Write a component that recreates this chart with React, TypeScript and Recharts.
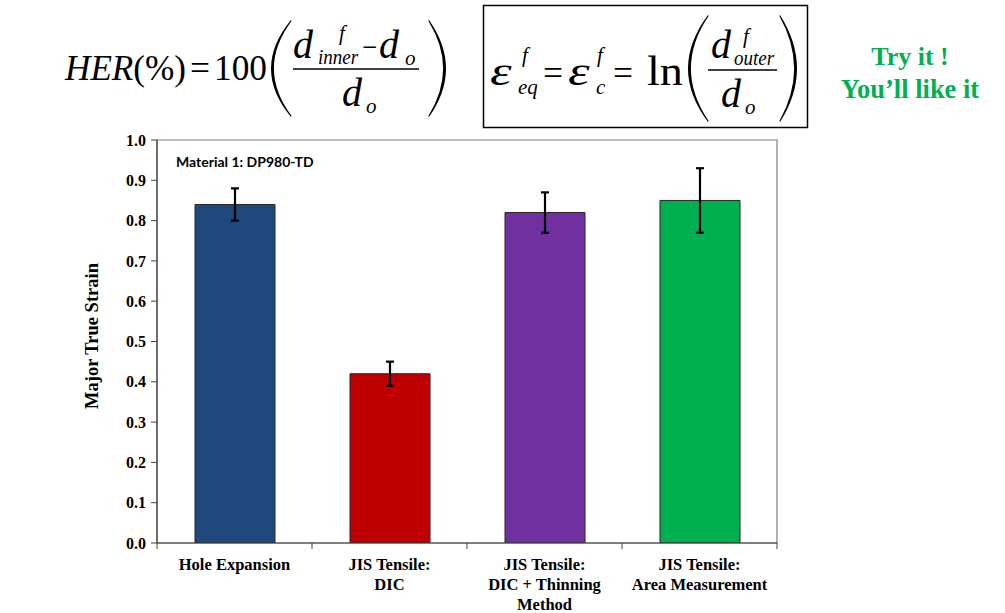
import { Bar, BarChart, Cell, ErrorBar, ReferenceArea, XAxis, YAxis } from "recharts";

const categories = [
  "Hole Expansion",
  "JIS Tensile:|DIC",
  "JIS Tensile:|DIC + Thinning|Method",
  "JIS Tensile:|Area Measurement",
];
const strains = [0.84, 0.42, 0.82, 0.85];
const strainErrors = [0.04, 0.03, 0.05, 0.08];
const barColors = ["#1F497D", "#C00000", "#7030A0", "#00B050"];
const yTicks = [0, 0.1, 0.2, 0.3, 0.4, 0.5, 0.6, 0.7, 0.8, 0.9, 1.0];

const W = 1005;
const H = 613;
const PLOT_LEFT = 157;
const PLOT_RIGHT = 777;
const SERIF = "'Liberation Serif', 'Times New Roman', serif";

const data = categories.map((name, i) => ({ name, strain: strains[i], err: strainErrors[i] }));

function CategoryTick(props: any) {
  const { x, y, payload, index } = props;
  const half = (PLOT_RIGHT - PLOT_LEFT) / categories.length / 2;
  const lines = String(payload.value).split("|");
  return (
    <g>
      <line x1={x - half} x2={x - half} y1={y} y2={y + 6} stroke="#404040" />
      {index === categories.length - 1 && (
        <line x1={x + half} x2={x + half} y1={y} y2={y + 6} stroke="#404040" />
      )}
      <text x={x} y={y + 27} textAnchor="middle" fontFamily={SERIF} fontWeight="bold" fontSize={16.5} fill="#000">
        {lines.map((l, i) => (
          <tspan key={i} x={x} dy={i === 0 ? 0 : 20}>
            {l}
          </tspan>
        ))}
      </text>
    </g>
  );
}

// crescent-shaped big parenthesis
function Paren({ xEnd, xMid, top, bottom }: { xEnd: number; xMid: number; top: number; bottom: number }) {
  const mid = (top + bottom) / 2;
  const dir = xMid < xEnd ? 1 : -1;
  const c1 = 2 * xMid - xEnd;
  const c2 = 2 * (xMid + dir * 2.6) - xEnd;
  return (
    <path
      d={`M${xEnd},${top} Q${c1},${mid} ${xEnd},${bottom} L${xEnd + dir * 0.6},${bottom - 1} Q${c2},${mid} ${xEnd + dir * 0.6},${top + 1} Z`}
      fill="#000"
    />
  );
}

// wide symbol-font style epsilon
function Eps({ x, y }: { x: number; y: number }) {
  return (
    <text transform={`translate(${x},${y}) scale(1.4,1)`} fontSize={39} fontStyle="italic">
      ε
    </text>
  );
}

function T({ x, y, s, len, italic, children }: any) {
  return (
    <text
      x={x}
      y={y}
      fontSize={s}
      fontStyle={italic ? "italic" : "normal"}
      textLength={len}
      lengthAdjust={len ? "spacingAndGlyphs" : undefined}
    >
      {children}
    </text>
  );
}

function Formulas() {
  return (
    <svg width={W} height={H} style={{ position: "absolute", left: 0, top: 0, pointerEvents: "none" }}>
      <g fontFamily={SERIF} fill="#000">
        {/* HER formula */}
        <text x={65} y={80} fontSize={36} textLength={121} lengthAdjust="spacingAndGlyphs">
          <tspan fontStyle="italic">HER</tspan>
          <tspan>(%)</tspan>
        </text>
        <T x={190} y={80} s={36} len={20}>=</T>
        <T x={214} y={80} s={36} len={53}>100</T>
        <Paren xEnd={291} xMid={271} top={20} bottom={117} />
        <T x={293} y={58} s={40} italic>d</T>
        <T x={339} y={40} s={21} italic>f</T>
        <T x={318} y={64} s={21} italic len={40}>inner</T>
        <T x={362} y={58} s={32} len={15}>−</T>
        <T x={379} y={58} s={40} italic>d</T>
        <T x={405} y={65} s={21} italic>o</T>
        <line x1={293} x2={419} y1={69} y2={69} stroke="#000" strokeWidth={1.6} />
        <T x={342} y={106} s={40} italic>d</T>
        <T x={366} y={113} s={21} italic>o</T>
        <Paren xEnd={429} xMid={446} top={20} bottom={117} />

        {/* strain formula */}
        <rect x={483.5} y={5.5} width={324} height={122} fill="none" stroke="#000" strokeWidth={1.5} />
        <Eps x={490} y={85} />
        <T x={518} y={94} s={21} italic>eq</T>
        <T x={522} y={62} s={21} italic>f</T>
        <T x={543} y={85} s={36} len={20}>=</T>
        <Eps x={568} y={85} />
        <T x={596} y={94} s={21} italic>c</T>
        <T x={597} y={62} s={21} italic>f</T>
        <T x={613} y={85} s={36} len={20}>=</T>
        <T x={647} y={85} s={42} len={36}>ln</T>
        <Paren xEnd={708} xMid={688} top={15} bottom={122} />
        <T x={711} y={58} s={40} italic>d</T>
        <T x={743} y={43} s={21} italic>f</T>
        <T x={734} y={65} s={21} italic len={40}>outer</T>
        <line x1={708} x2={777} y1={70} y2={70} stroke="#000" strokeWidth={1.6} />
        <T x={721} y={107} s={40} italic>d</T>
        <T x={745} y={114} s={21} italic>o</T>
        <Paren xEnd={780} xMid={797} top={15} bottom={122} />

        <text x={910} y={65} fontSize={26} fontWeight="bold" fill="#00B050" textAnchor="middle">
          Try it !
        </text>
        <text x={910} y={98} fontSize={26.5} fontWeight="bold" fill="#00B050" textAnchor="middle">
          You’ll like it
        </text>

        <text
          x={98}
          y={336}
          transform="rotate(-90 98 336)"
          textAnchor="middle"
          fontSize={18.5}
          fontWeight="bold"
        >
          Major True Strain
        </text>
        <text x={176} y={167} fontFamily="Lato, 'Open Sans', sans-serif" fontSize={14} fontWeight="bold">
          Material 1: DP980-TD
        </text>
      </g>
    </svg>
  );
}

export default function App() {
  return (
    <div style={{ position: "absolute", left: 0, top: 0, width: W, height: H, background: "#fff" }}>
      <BarChart
        width={W}
        height={H}
        data={data}
        margin={{ top: 140, right: W - PLOT_RIGHT, bottom: 10, left: PLOT_LEFT - 60 }}
        barSize={80}
      >
        <ReferenceArea y1={0} y2={1} fill="none" stroke="#7f7f7f" strokeWidth={1.2} ifOverflow="visible" />
        <XAxis
          dataKey="name"
          height={60}
          tickLine={false}
          tickSize={0}
          tickMargin={0}
          axisLine={{ stroke: "#404040", strokeWidth: 1.2 }}
          tick={<CategoryTick />}
          interval={0}
        />
        <YAxis
          width={60}
          domain={[0, 1]}
          ticks={yTicks}
          tickFormatter={(v: number) => v.toFixed(1)}
          tickSize={6}
          tickMargin={5}
          tickLine={{ stroke: "#404040" }}
          axisLine={{ stroke: "#404040", strokeWidth: 1.2 }}
          tick={{ fontFamily: SERIF, fontWeight: "bold", fontSize: 16, fill: "#000" }}
          allowDataOverflow
        />
        <Bar dataKey="strain" stroke="#262626" strokeWidth={1} isAnimationActive={false}>
          {data.map((_, i) => (
            <Cell key={i} fill={barColors[i]} />
          ))}
          <ErrorBar dataKey="err" width={4} strokeWidth={2.2} stroke="#000" direction="y" isAnimationActive={false} />
        </Bar>
      </BarChart>
      <Formulas />
    </div>
  );
}
